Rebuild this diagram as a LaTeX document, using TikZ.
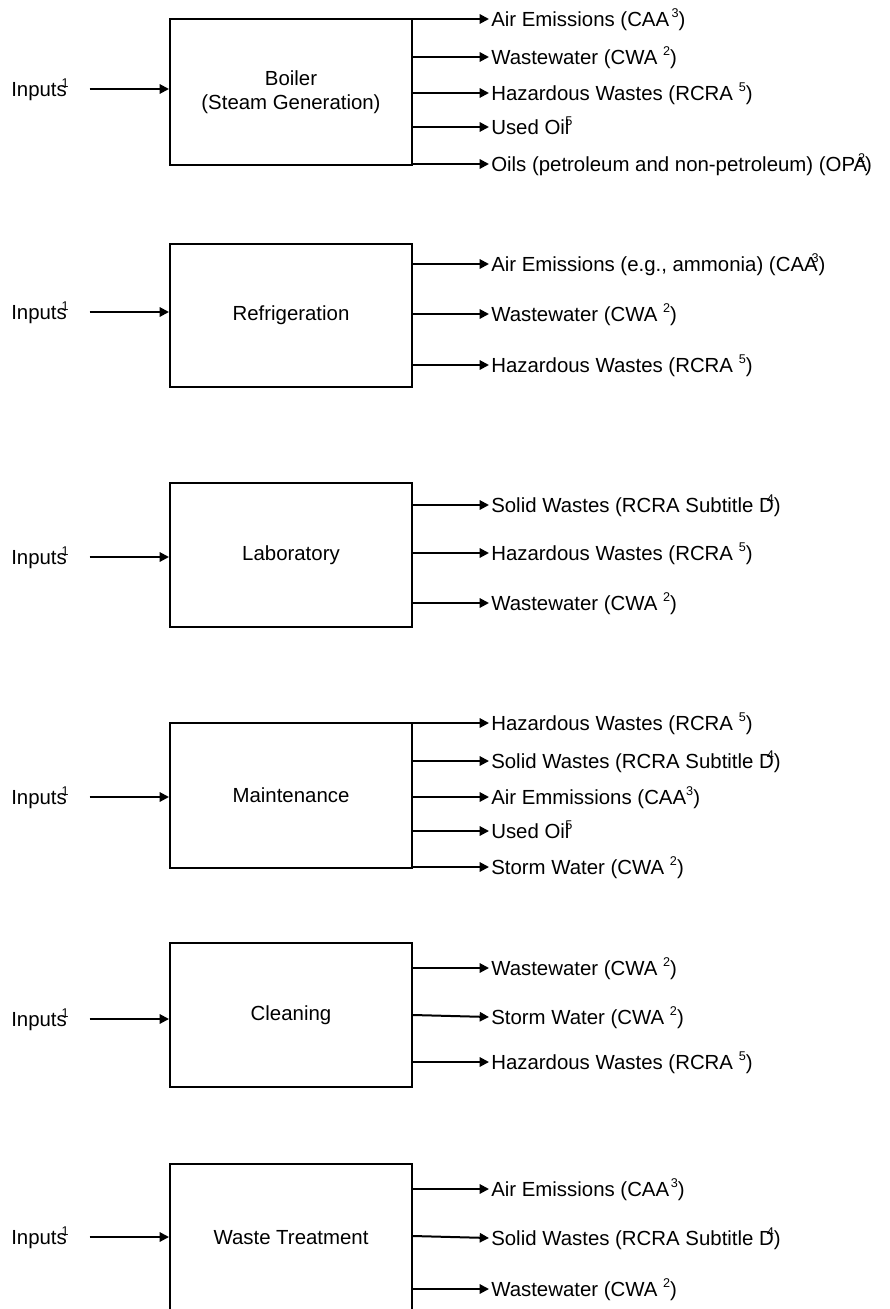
\documentclass[tikz,border=0pt]{standalone}
\usepackage{fontspec}
\setmainfont{Liberation Sans}
\usetikzlibrary{arrows.meta}
\newcommand{\supnum}[2][0pt]{\kern#1\raisebox{0.45em}{\fontsize{9.5}{10}\selectfont #2}}
\tikzset{
    procbox/.style={draw, line width=1.5pt, minimum width=181.5pt, align=center},
    outlab/.style={anchor=west, inner xsep=1.5pt, inner ysep=0pt, text height=11pt, text depth=0pt},
    inlab/.style={anchor=west, inner sep=0pt, text height=11pt, text depth=0pt},
    flow/.style={line width=1.5pt, -{Triangle[length=7pt,width=7pt]}}
}

\begin{document}
\begin{tikzpicture}[x=0.75pt, y=-0.75pt, font=\fontsize{15.3}{18}\selectfont]
    \useasboundingbox (0,0) rectangle (889,1309);
    \clip (0,0) rectangle (889,1309);
    \node[procbox, minimum height=109.5pt] (boiler) at (291,92) {Boiler\\(Steam Generation)};
    \node[procbox, minimum height=107.25pt] (refrig) at (291,315) {Refrigeration};
    \node[procbox, minimum height=108pt] (lab) at (291,555) {Laboratory};
    \node[procbox, minimum height=108.75pt] (maint) at (291,795.5) {Maintenance};
    \node[procbox, minimum height=108pt] (clean) at (291,1015) {Cleaning};
    \node[procbox, minimum height=111pt] (wastetr) at (291,1238) {Waste Treatment};
    \foreach \b/\y in {boiler/89, refrig/312, lab/557, maint/797, clean/1019, wastetr/1237}{
        \node[inlab] (in-\b) at (11,\y) {Inputs\supnum[-0.25em]{1}};
        \draw[flow, shorten <=15.5pt] (in-\b.east) -- (\b.west |- in-\b.east);
    }
    \foreach \y/\t [count=\i] in {19/{Air Emissions (CAA\supnum[0.12em]{3})}, 57/{Wastewater (CWA \supnum{2})},
        93/{Hazardous Wastes (RCRA \supnum{5})}, 127/{Used Oil\supnum[-0.2em]{5}},
        164/{Oils (petroleum and non-petroleum) (OPA\supnum[-0.45em]{2})}}{
        \node[outlab] (boiler-\i) at (489,\y) {\t};
        \draw[flow] (boiler.east |- boiler-\i.west) -- (boiler-\i.west);
    }
    \foreach \y/\t [count=\i] in {264/{Air Emissions (e.g., ammonia) (CAA\supnum[-0.3em]{3})},
        314/{Wastewater (CWA \supnum{2})}, 365/{Hazardous Wastes (RCRA \supnum{5})}}{
        \node[outlab] (refrig-\i) at (489,\y) {\t};
        \draw[flow] (refrig.east |- refrig-\i.west) -- (refrig-\i.west);
    }
    \foreach \y/\t [count=\i] in {505/{Solid Wastes (RCRA Subtitle D\supnum[-0.35em]{4})},
        553/{Hazardous Wastes (RCRA \supnum{5})}, 603/{Wastewater (CWA \supnum{2})}}{
        \node[outlab] (lab-\i) at (489,\y) {\t};
        \draw[flow] (lab.east |- lab-\i.west) -- (lab-\i.west);
    }
    \foreach \y/\t [count=\i] in {723/{Hazardous Wastes (RCRA \supnum{5})},
        761/{Solid Wastes (RCRA Subtitle D\supnum[-0.35em]{4})}, 797/{Air Emmissions (CAA\supnum{3})},
        831/{Used Oil\supnum[-0.2em]{5}}, 867/{Storm Water (CWA \supnum{2})}}{
        \node[outlab] (maint-\i) at (489,\y) {\t};
        \draw[flow] (maint.east |- maint-\i.west) -- (maint-\i.west);
    }
    \node[outlab] (clean-1) at (489,968) {Wastewater (CWA \supnum{2})};
    \node[outlab] (clean-2) at (489,1017) {Storm Water (CWA \supnum{2})};
    \node[outlab] (clean-3) at (489,1062) {Hazardous Wastes (RCRA \supnum{5})};
    \draw[flow] (clean.east |- clean-1.west) -- (clean-1.west);
    \draw[flow] (clean.east) -- (clean-2.west);
    \draw[flow] (clean.east |- clean-3.west) -- (clean-3.west);
    \node[outlab] (wastetr-1) at (489,1189) {Air Emissions (CAA\supnum[0.08em]{3})};
    \node[outlab] (wastetr-2) at (489,1238) {Solid Wastes (RCRA Subtitle D\supnum[-0.35em]{4})};
    \node[outlab] (wastetr-3) at (489,1289) {Wastewater (CWA \supnum{2})};
    \draw[flow] (wastetr.east |- wastetr-1.west) -- (wastetr-1.west);
    \draw[flow] ([yshift=1.5pt]wastetr.east) -- (wastetr-2.west);
    \draw[flow] (wastetr.east |- wastetr-3.west) -- (wastetr-3.west);
\end{tikzpicture}
\end{document}
